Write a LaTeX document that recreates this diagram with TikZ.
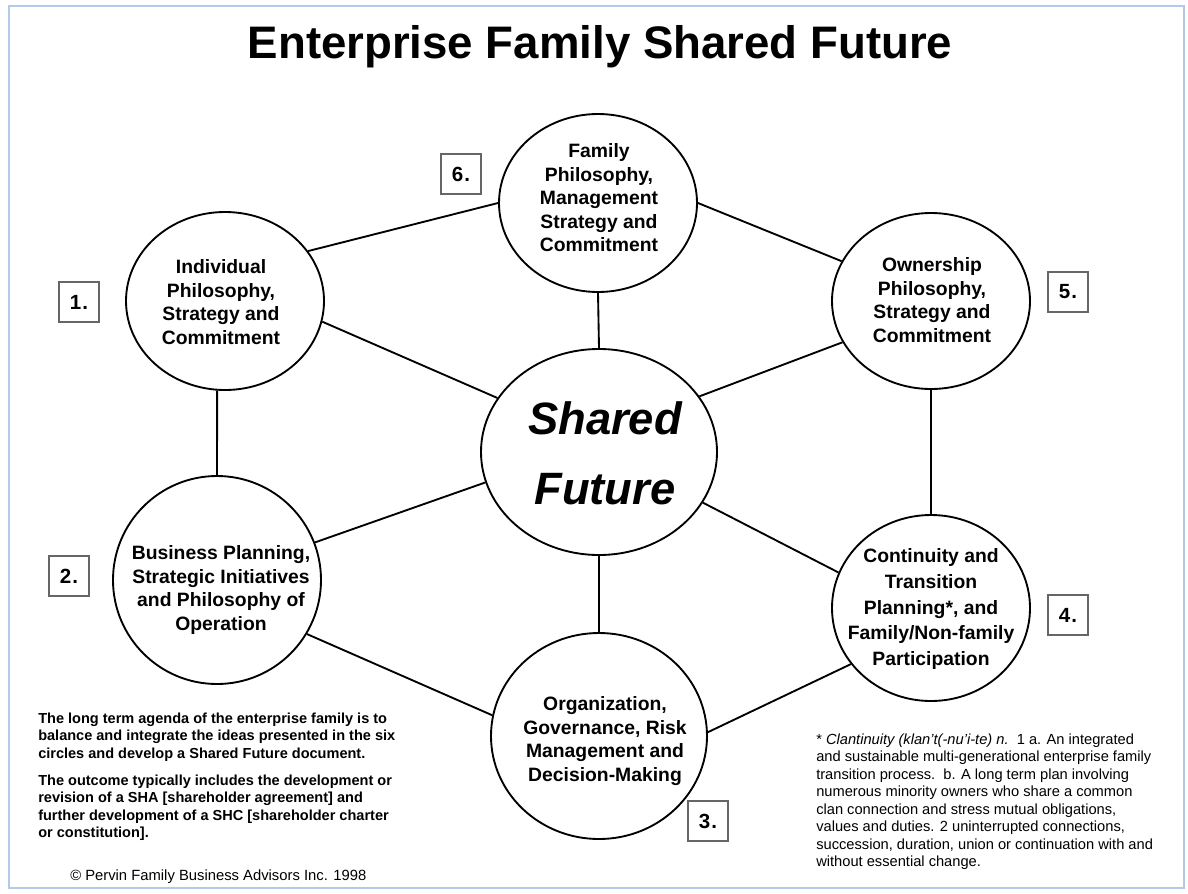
\documentclass[tikz,border=0pt]{standalone}
\usepackage{fontspec}
\setmainfont{Liberation Sans}
\usetikzlibrary{shapes.geometric}
\definecolor{frameblue}{RGB}{180,200,234}
\begin{document}
\begin{tikzpicture}[x=0.75pt,y=-0.75pt,
  bubble/.style 2 args={draw, ellipse, line width=1.4pt, inner sep=0pt, minimum width=#1, minimum height=#2},
  link/.style={line width=1.4pt},
  numbox/.style={draw=black!60, line width=0.8pt, minimum size=30pt, inner sep=0pt, font=\fontsize{15.4}{18}\selectfont\bfseries},
  bubtext/.style={align=center, inner sep=0pt, font=\fontsize{14.5}{17.6}\selectfont\bfseries},
  bodytext/.style={align=left, inner sep=0pt, anchor=north west}
]
\useasboundingbox (0,0) rectangle (1188,893);
\fill[white] (0,0) rectangle (1188,893);
\draw[frameblue, line width=1.5pt] (9,6) rectangle (1184,888);

\node[font=\fontsize{34.2}{40}\selectfont\bfseries, anchor=base, inner sep=0pt] (title) at (600,58) {Enterprise Family Shared Future};

% circles
\node[bubble={148.5pt}{133.5pt}] (c1) at (225,301) {};
\node[bubble={148.5pt}{133.5pt}] (c6) at (598,203) {};
\node[bubble={148.5pt}{132pt}] (c5) at (931,301) {};
\node[bubble={148.5pt}{139.5pt}] (c4) at (931,608) {};
\node[bubble={156pt}{156pt}] (c2) at (217,580) {};
\node[bubble={162pt}{154.5pt}] (c3) at (599,736) {};
\node[bubble={177pt}{154.5pt}] (cc) at (599,452) {};

% connectors
\draw[link] (c1.31) -- (c6.180);
\draw[link] (c6.0) -- (c5.156);
\draw[link] (c1.-12) -- (cc.152);
\draw[link] (c6.-90) -- (cc.90);
\draw[link] (cc.29) -- (c5.-155);
\draw[link] (cc.-165) -- (c2.21);
\draw[link] (cc.-26) -- (c4.159);
\draw[link] (cc.-90) -- (c3.90);
\draw[link] (c1.-95) -- (c2.90);
\draw[link] (c2.-31) -- (c3.169);
\draw[link] (c3.2) -- (c4.-145);
\draw[link] (c5.-90) -- (c4.90);

% circle texts
\node[bubtext] (t1) at (221,302) {Individual\\Philosophy,\\Strategy and\\Commitment};
\node[bubtext] (t6) at (599,198) {Family\\Philosophy,\\Management\\Strategy and\\Commitment};
\node[bubtext] (t5) at (932,300) {Ownership\\Philosophy,\\Strategy and\\Commitment};
\node[bubtext, font=\fontsize{14.5}{19.3}\selectfont\bfseries] (t4) at (931,609) {Continuity and\\Transition\\Planning*, and\\Family/Non-family\\Participation};
\node[bubtext] (t2) at (221,590) {Business Planning,\\Strategic Initiatives\\and Philosophy of\\Operation};
\node[bubtext] (t3) at (605,741) {Organization,\\Governance, Risk\\Management and\\Decision-Making};
\node[align=center, inner sep=0pt, font=\fontsize{34}{52.5}\selectfont\bfseries\itshape] (tc) at (605,453) {Shared\\Future};

% number boxes
\node[numbox] (b1) at (79,302) {1\kern0.8pt.};
\node[numbox] (b2) at (69,576) {2\kern0.8pt.};
\node[numbox] (b3) at (708,821) {3\kern0.8pt.};
\node[numbox] (b4) at (1068,615) {4\kern0.8pt.};
\node[numbox] (b5) at (1068,292) {5\kern0.8pt.};
\node[numbox] (b6) at (461,174) {6\kern0.8pt.};

% bottom-left text
\node[bodytext, font=\fontsize{10.9}{13.1}\selectfont\bfseries] (agenda) at (38,712.5) {The long term agenda of the enterprise family is to\\
balance and integrate the ideas presented in the six\\
circles and develop a Shared Future document.\\[7.3pt]
The outcome typically includes the development or\\
revision of a SHA [shareholder agreement] and\\
further development of a SHC [shareholder charter\\
or constitution].};

% footnote
\node[bodytext, font=\fontsize{11}{13.1}\selectfont] (note) at (816,733.5) {* \textit{Clantinuity (klan't(-nu'i-te) n.}\ \ 1 a. An integrated\\
and sustainable multi-generational enterprise family\\
transition process.\ \ b. A long term plan involving\\
numerous minority owners who share a common\\
clan connection and stress mutual obligations,\\
values and duties. 2 uninterrupted connections,\\
succession, duration, union or continuation with and\\
without essential change.};

\node[anchor=base west, inner sep=0pt, font=\fontsize{11.1}{13}\selectfont] (copy) at (70,880) {© Pervin Family Business Advisors Inc. 1998};
\end{tikzpicture}
\end{document}
